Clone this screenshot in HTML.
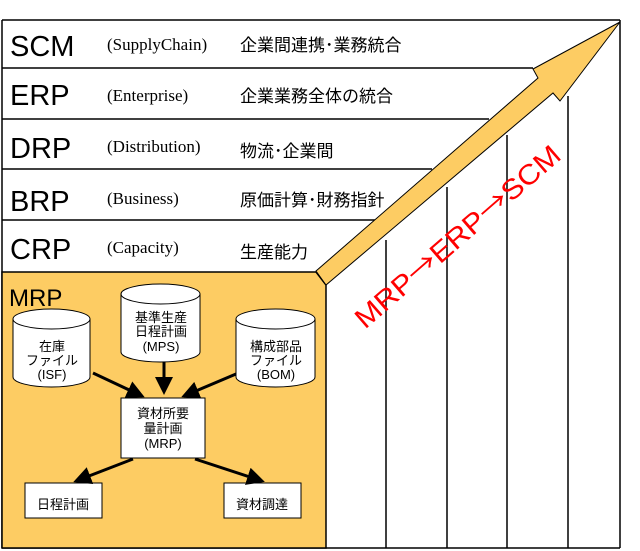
<!DOCTYPE html>
<html><head><meta charset="utf-8"><style>
html,body{margin:0;padding:0;background:#fff;}
svg{display:block;}
.j{font-family:"Liberation Sans","Noto Sans CJK JP",sans-serif;}
.s{font-family:"Liberation Serif",serif;}
</style></head><body>
<svg width="640" height="551" viewBox="0 0 640 551" xmlns="http://www.w3.org/2000/svg">
<defs><marker id="ah" markerWidth="6" markerHeight="6" refX="5" refY="3" orient="auto" markerUnits="strokeWidth"><path d="M0,0 L6,3 L0,6 z" fill="#000"/></marker></defs>
<g stroke="#000" stroke-width="1.5" fill="none">
<line x1="2" y1="20" x2="620" y2="20"/>
<line x1="620" y1="20" x2="620" y2="548"/>
<line x1="2" y1="20" x2="2" y2="548"/>
<line x1="2" y1="68" x2="533" y2="68"/>
<line x1="2" y1="119" x2="489" y2="119"/>
<line x1="2" y1="169" x2="432" y2="169"/>
<line x1="2" y1="220" x2="375" y2="220"/>
<line x1="386" y1="240" x2="386" y2="548"/>
<line x1="447" y1="187" x2="447" y2="548"/>
<line x1="507" y1="135" x2="507" y2="548"/>
<line x1="568" y1="96" x2="568" y2="548"/>
<line x1="2" y1="548" x2="620" y2="548"/>
</g>
<polygon points="2,272 316,272 326,285 326,548 2,548" fill="#fdcc63" stroke="#000" stroke-width="1.5"/>
<polygon points="316,271 538,78 533,69 620,22 560,101 553,93 326,285" fill="#fdcc63" stroke="#000" stroke-width="1"/>
<g class="j" font-size="29" fill="#000">
<text x="10" y="56">SCM</text><text x="10" y="105">ERP</text><text x="10" y="158">DRP</text><text x="10" y="211">BRP</text><text x="10" y="259">CRP</text>
</g>
<g class="s" font-size="17" fill="#000">
<text x="107" y="50">(SupplyChain)</text><text x="107" y="101">(Enterprise)</text><text x="107" y="152">(Distribution)</text><text x="107" y="204">(Business)</text><text x="107" y="253">(Capacity)</text>
</g>
<g class="j" font-size="17" fill="#000">
<text x="240" y="51">企業間連携･業務統合</text><text x="240" y="102">企業業務全体の統合</text><text x="240" y="157">物流･企業間</text><text x="240" y="206">原価計算･財務指針</text><text x="240" y="258">生産能力</text>
</g>
<text class="j" x="458" y="246" font-size="28" fill="#f00" text-anchor="middle" textLength="262" lengthAdjust="spacingAndGlyphs" transform="rotate(-41 458 237)">MRP<tspan font-family="Noto Sans CJK JP, sans-serif">→</tspan>ERP<tspan font-family="Noto Sans CJK JP, sans-serif">→</tspan>SCM</text>
<text class="j" x="9" y="306" font-size="24">MRP</text>
<g stroke="#000" stroke-width="1" fill="#fff">
<path d="M13,319 L13,377 A38.5,10 0 0 0 90,377 L90,319"/><ellipse cx="51.5" cy="319" rx="38.5" ry="10"/>
<path d="M121,294 L121,352 A39.5,10 0 0 0 200,352 L200,294"/><ellipse cx="160.5" cy="294" rx="39.5" ry="10"/>
<path d="M236,319 L236,377 A39.5,10 0 0 0 315,377 L315,319"/><ellipse cx="275.5" cy="319" rx="39.5" ry="10"/>
<rect x="121" y="398" width="84" height="60"/>
<rect x="25" y="483" width="77" height="35"/>
<rect x="224" y="483" width="77" height="35"/>
</g>
<g class="j" font-size="13" fill="#000" text-anchor="middle">
<text x="52" y="351">在庫</text><text x="52" y="365">ファイル</text><text x="52" y="379">(ISF)</text>
<text x="161" y="322">基準生産</text><text x="161" y="336">日程計画</text><text x="161" y="351">(MPS)</text>
<text x="276" y="351">構成部品</text><text x="276" y="365">ファイル</text><text x="276" y="379">(BOM)</text>
<text x="163" y="418">資材所要</text><text x="163" y="433">量計画</text><text x="163" y="448">(MRP)</text>
<text x="63" y="509">日程計画</text><text x="262" y="509">資材調達</text>
</g>
<g stroke="#000" stroke-width="3" marker-end="url(#ah)">
<line x1="93" y1="373" x2="142" y2="396"/>
<line x1="164" y1="362" x2="164" y2="392"/>
<line x1="236" y1="374" x2="184" y2="396"/>
<line x1="133" y1="459" x2="76" y2="481"/>
<line x1="195" y1="459" x2="262" y2="481"/>
</g>
</svg>
</body></html>
